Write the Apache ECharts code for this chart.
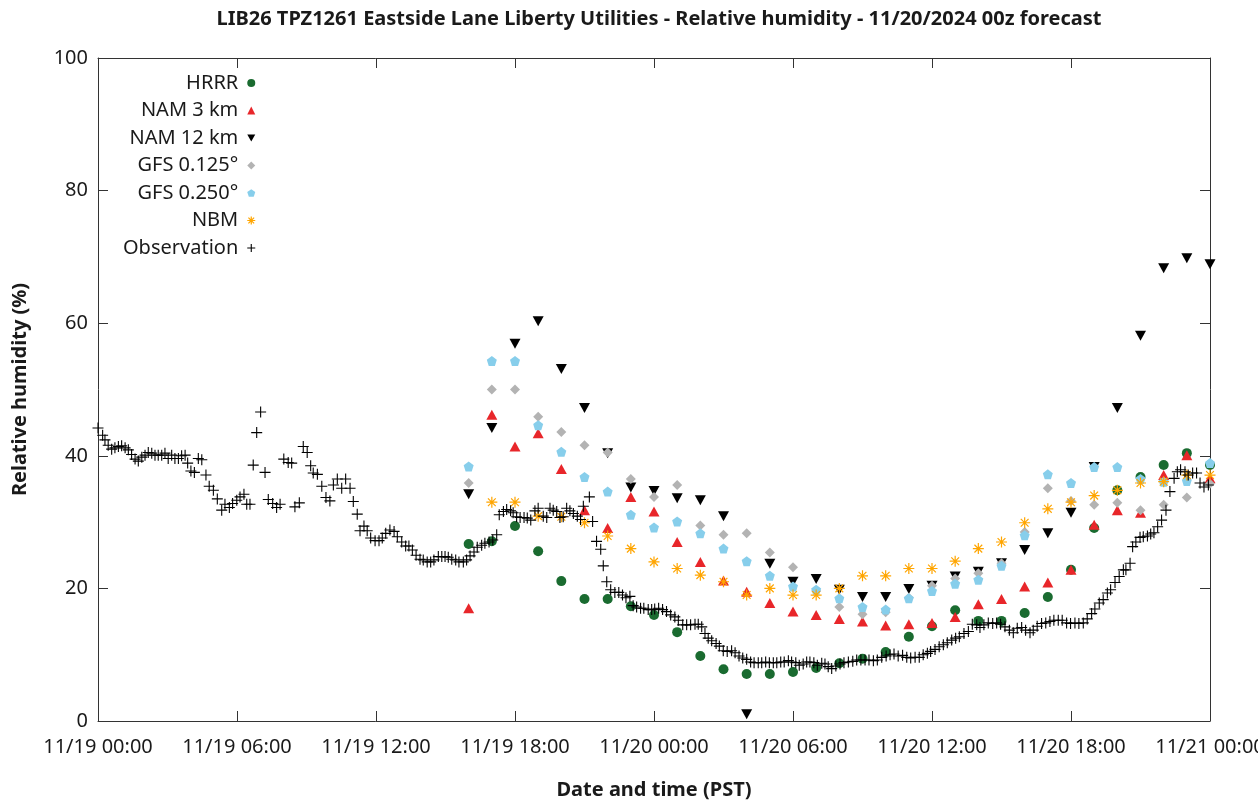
<!DOCTYPE html>
<html><head><meta charset="utf-8">
<script src="https://cdn.jsdelivr.net/npm/echarts@6/dist/echarts.min.js"></script>
<style>html,body{margin:0;padding:0;background:#fff}#c{width:1258px;height:803px}</style>
</head><body><div id="c"></div><script>
// ---- data ----
const xTickLabels = ["11/19 00:00","11/19 06:00","11/19 12:00","11/19 18:00","11/20 00:00","11/20 06:00","11/20 12:00","11/20 18:00","11/21 00:00"];
const yTickValues = [0,20,40,60,80,100];
// forecast valid hours since 11/19 00:00 PST
const modelHours = [16,17,18,19,20,21,22,23,24,25,26,27,28,29,30,31,32,33,34,35,36,37,38,39,40,41,42,43,44,45,46,47,48];
const hrrr   = [26.7,27.1,29.4,25.6,21.1,18.4,18.4,17.3,16.0,13.4,9.8,7.8,7.1,7.1,7.4,8.0,8.7,9.4,10.4,12.7,14.3,16.7,15.1,15.1,16.3,18.7,22.8,29.1,34.8,36.8,38.6,40.4,38.6];
const nam3   = [17.0,46.2,41.4,43.4,38.0,31.8,29.1,33.8,31.6,27.0,24.0,21.2,19.5,17.8,16.5,16.0,15.4,15.0,14.4,14.6,14.8,15.7,17.6,18.4,20.3,20.9,22.8,29.6,31.8,31.4,37.1,40.1,36.6];
const nam12  = [34.2,44.2,56.9,60.3,53.1,47.2,40.4,35.2,34.7,33.6,33.3,30.9,1.0,23.7,21.0,21.4,19.8,18.7,18.7,19.9,20.4,21.8,22.5,23.8,25.8,28.3,31.4,38.3,47.2,58.1,68.3,69.8,68.9];
const gfs0125= [35.9,50.0,50.0,45.9,43.6,41.6,40.5,36.5,33.8,35.6,29.5,28.1,28.3,25.4,23.2,19.6,17.2,16.1,16.4,18.6,20.4,21.5,22.3,23.8,28.5,35.1,33.2,32.6,32.9,31.8,32.6,33.7,35.8];
const gfs0250= [38.4,54.3,54.3,44.6,40.6,36.8,34.6,31.1,29.2,30.1,28.3,26.0,24.1,21.9,20.3,19.8,18.5,17.2,16.8,18.5,19.6,20.7,21.3,23.4,28.0,37.2,35.9,38.3,38.3,36.5,36.1,36.2,38.9];
const nbm    = [null,33.0,33.0,30.9,30.8,29.9,27.9,26.0,24.0,23.0,22.0,21.0,19.0,20.0,19.0,19.0,20.0,21.9,21.9,23.0,23.0,24.1,26.0,27.0,29.9,32.0,33.0,34.0,34.8,35.9,36.1,37.1,37.1];
// observations: hours since 11/19 00:00 PST and RH (%)
const obsHours = [0.00,0.20,0.30,0.44,0.59,0.73,0.88,1.02,1.17,1.31,1.45,1.60,1.74,1.89,2.03,2.17,2.32,2.46,2.60,2.75,2.89,3.03,3.18,3.32,3.47,3.61,3.76,3.87,4.01,4.16,4.33,4.48,4.66,4.80,4.98,5.15,5.34,5.48,5.67,5.81,5.99,6.13,6.30,6.42,6.56,6.70,6.85,7.02,7.21,7.35,7.54,7.71,7.86,8.02,8.21,8.36,8.50,8.69,8.86,9.03,9.18,9.29,9.47,9.66,9.84,10.01,10.16,10.33,10.52,10.69,10.88,11.02,11.19,11.31,11.48,11.62,11.77,11.96,12.13,12.27,12.42,12.60,12.78,12.92,13.11,13.28,13.42,13.57,13.73,13.90,14.04,14.21,14.36,14.50,14.69,14.84,14.98,15.12,15.27,15.44,15.58,15.77,15.91,16.06,16.23,16.37,16.56,16.70,16.88,17.04,17.21,17.32,17.50,17.64,17.81,17.92,18.07,18.22,18.39,18.53,18.68,18.86,19.00,19.22,19.37,19.51,19.65,19.80,19.94,20.08,20.23,20.37,20.52,20.69,20.83,20.95,21.21,21.35,21.52,21.70,21.81,21.96,22.13,22.31,22.48,22.64,22.79,22.96,23.10,23.25,23.42,23.56,23.75,23.90,24.03,24.20,24.37,24.54,24.72,24.90,25.05,25.24,25.41,25.58,25.77,25.91,26.06,26.20,26.34,26.49,26.68,26.82,26.99,27.16,27.35,27.50,27.67,27.83,28.00,28.17,28.32,28.50,28.65,28.82,28.98,29.15,29.30,29.47,29.62,29.80,29.94,30.12,30.27,30.44,30.59,30.73,30.90,31.05,31.24,31.38,31.52,31.67,31.85,32.03,32.20,32.39,32.58,32.75,32.93,33.11,33.28,33.47,33.64,33.83,34.02,34.19,34.36,34.54,34.73,34.91,35.08,35.27,35.45,35.62,35.80,35.94,36.13,36.31,36.49,36.66,36.85,37.02,37.18,37.38,37.57,37.74,37.93,38.07,38.24,38.43,38.62,38.79,38.96,39.15,39.34,39.51,39.68,39.87,40.04,40.23,40.37,40.54,40.73,40.91,41.09,41.26,41.45,41.62,41.81,41.98,42.17,42.34,42.53,42.70,42.89,43.03,43.22,43.39,43.57,43.71,43.90,44.08,44.26,44.37,44.55,44.66,44.80,44.98,45.12,45.30,45.44,45.58,45.74,45.91,46.10,46.27,46.45,46.59,46.73,46.92,47.06,47.25,47.42,47.57,47.74,47.93];
const obsRH = [44.2,43.1,42.4,41.6,41.0,41.2,41.4,41.5,41.2,40.9,40.2,39.5,39.2,39.8,40.1,40.5,40.4,40.1,40.1,40.1,40.4,39.6,40.1,39.6,39.6,40.0,40.1,38.9,37.7,37.5,39.6,39.4,37.1,35.4,34.8,33.5,31.8,32.7,32.2,32.8,33.3,33.8,34.2,32.7,32.7,38.6,43.5,46.6,37.5,33.4,32.8,32.2,32.7,39.5,39.0,38.9,32.3,32.9,41.4,40.5,38.5,37.4,37.2,35.4,33.7,33.2,35.6,36.5,35.1,36.5,35.1,33.1,31.2,28.7,29.4,28.7,27.6,27.2,27.2,27.6,28.3,28.8,28.6,27.8,27.0,26.4,26.4,25.8,25.0,24.4,24.3,24.0,24.0,24.3,24.8,24.8,24.8,24.7,24.4,24.3,24.0,24.0,24.3,24.9,25.5,26.2,26.5,26.8,27.0,27.3,28.1,31.1,31.6,31.9,31.7,31.4,30.8,30.7,30.7,30.6,30.3,31.7,32.1,30.9,30.7,32.1,31.8,31.6,30.7,30.8,32.1,31.7,31.3,30.9,30.4,32.4,33.8,30.1,27.1,25.9,23.4,21.0,19.8,19.4,19.4,19.0,18.6,18.8,17.4,17.2,17.0,17.0,16.8,16.8,16.9,17.0,16.8,16.5,16.0,15.7,15.2,14.5,14.5,14.5,14.6,14.6,14.2,13.2,12.5,12.1,11.7,11.3,10.6,10.5,10.6,10.3,9.8,9.5,9.3,8.9,8.8,8.8,8.8,8.9,8.8,8.8,8.8,8.9,8.9,9.1,8.9,8.8,8.4,8.6,8.9,8.9,8.8,8.4,8.7,8.6,8.2,7.9,8.3,8.6,8.8,8.9,9.0,9.2,9.2,9.2,9.2,9.1,9.2,9.6,9.8,10.0,10.1,9.8,9.9,9.6,9.5,9.6,9.6,10.0,10.2,10.5,10.8,11.2,11.5,11.8,12.2,12.5,12.7,13.2,13.5,14.6,14.5,14.1,14.5,14.8,14.7,14.8,14.6,14.2,13.7,13.3,14.0,14.1,13.7,13.3,13.7,14.3,14.7,14.8,15.0,15.2,15.2,15.2,14.8,14.7,14.8,14.7,14.8,15.4,16.2,16.9,17.8,18.3,19.3,19.8,20.9,21.8,22.8,22.8,23.8,26.3,27.0,27.7,27.8,27.9,28.2,28.4,29.3,30.3,31.8,34.6,36.6,37.6,37.9,37.6,37.1,37.4,37.4,35.9,35.3,35.6];

// ---- chart ----
const FONT = 'Noto Sans';
const pair = (xs, ys) => xs.map((x, i) => [x, ys[i]]).filter(p => p[1] != null);
const plusPath = 'path://M0,-5L0,5M-5,0L5,0';
const starPath = 'path://M0,-5L0,5M-5,0L5,0M-3.54,-3.54L3.54,3.54M-3.54,3.54L3.54,-3.54';
const pentPath = 'path://M0,-5L4.76,-1.55L2.94,4.05L-2.94,4.05L-4.76,-1.55Z';
const downTriPath = 'path://M-5,-4.5L5,-4.5L0,4.5Z';

const seriesDefs = [
  {name:'HRRR', data: pair(modelHours, hrrr), symbol:'circle', symbolSize:10, itemStyle:{color:'#1a6b30', opacity:1}},
  {name:'NAM 3 km', data: pair(modelHours, nam3), symbol:'triangle', symbolSize:[11,10], itemStyle:{color:'#e8262a', opacity:1}},
  {name:'NAM 12 km', data: pair(modelHours, nam12), symbol:downTriPath, symbolSize:[11,10], itemStyle:{color:'#000000', opacity:1}},
  {name:'GFS 0.125°', data: pair(modelHours, gfs0125), symbol:'diamond', symbolSize:[10,10], itemStyle:{color:'#b3b3b3', opacity:1}},
  {name:'GFS 0.250°', data: pair(modelHours, gfs0250), symbol:pentPath, symbolSize:10, itemStyle:{color:'#87ceeb', opacity:1}},
  {name:'NBM', data: pair(modelHours, nbm), symbol:starPath, symbolSize:11, itemStyle:{color:'#ffa500', borderColor:'#ffa500', borderWidth:1.2, opacity:1}},
  {name:'Observation', data: pair(obsHours, obsRH), symbol:plusPath, symbolSize:11, itemStyle:{color:'#000', borderColor:'#000', borderWidth:1.1, opacity:1}}
];

const axisLineStyle = {color:'#333', width:1};
const txt = '#1a1a1a';
const chart = echarts.init(document.getElementById('c'), null, {renderer:'canvas'});
chart.setOption({
  animation:false,
  backgroundColor:'#fff',
  textStyle:{fontFamily:FONT},
  title:{text:'LIB26 TPZ1261 Eastside Lane Liberty Utilities - Relative humidity - 11/20/2024 00z forecast',
    left:654, textAlign:'center', top:4,
    textStyle:{fontFamily:FONT, fontSize:20, fontWeight:'bold', color:txt}},
  grid:{left:98, right:48, top:58, bottom:82, containLabel:false, outerBoundsMode:'none'},
  legend:{
    orient:'vertical', align:'right', left:118, top:68, itemGap:7.5, itemWidth:8, itemHeight:8,
    textStyle:{fontFamily:FONT, fontSize:20, color:txt, lineHeight:20, padding:[0,4,0,0]},
    data: seriesDefs.map(s => ({name:s.name, itemStyle: s.itemStyle}))
  },
  xAxis:[
    {type:'value', min:0, max:48, interval:6, position:'bottom',
     name:'Date and time (PST)', nameLocation:'middle', nameGap:59,
     nameTextStyle:{fontFamily:FONT, fontSize:20, fontWeight:'bold', color:txt},
     axisLine:{show:true, lineStyle:axisLineStyle},
     axisTick:{show:true, inside:true, length:10, lineStyle:axisLineStyle},
     axisLabel:{fontFamily:FONT, fontSize:20, color:txt, margin:16, hideOverlap:false,
       formatter:v => xTickLabels[Math.round(v/6)] || ''},
     splitLine:{show:false}},
    {type:'value', min:0, max:48, interval:6, position:'top',
     axisLine:{show:true, onZero:false, lineStyle:axisLineStyle},
     axisTick:{show:true, inside:true, length:10, lineStyle:axisLineStyle},
     axisLabel:{show:false}, splitLine:{show:false}}
  ],
  yAxis:[
    {type:'value', min:0, max:100, interval:20, position:'left',
     name:'Relative humidity (%)', nameLocation:'middle', nameRotate:90, nameGap:68,
     nameTextStyle:{fontFamily:FONT, fontSize:20, fontWeight:'bold', color:txt},
     axisLine:{show:true, lineStyle:axisLineStyle},
     axisTick:{show:true, inside:true, length:10, lineStyle:axisLineStyle},
     axisLabel:{fontFamily:FONT, fontSize:20, color:txt, margin:10,
       formatter:v => yTickValues.includes(v) ? String(v) : ''},
     splitLine:{show:false}},
    {type:'value', min:0, max:100, interval:20, position:'right',
     axisLine:{show:true, onZero:false, lineStyle:axisLineStyle},
     axisTick:{show:true, inside:true, length:10, lineStyle:axisLineStyle},
     axisLabel:{show:false}, splitLine:{show:false}}
  ],
  series: seriesDefs.map(s => Object.assign({type:'scatter', xAxisIndex:0, yAxisIndex:0, emphasis:{disabled:true}}, s))
});
</script></body></html>
